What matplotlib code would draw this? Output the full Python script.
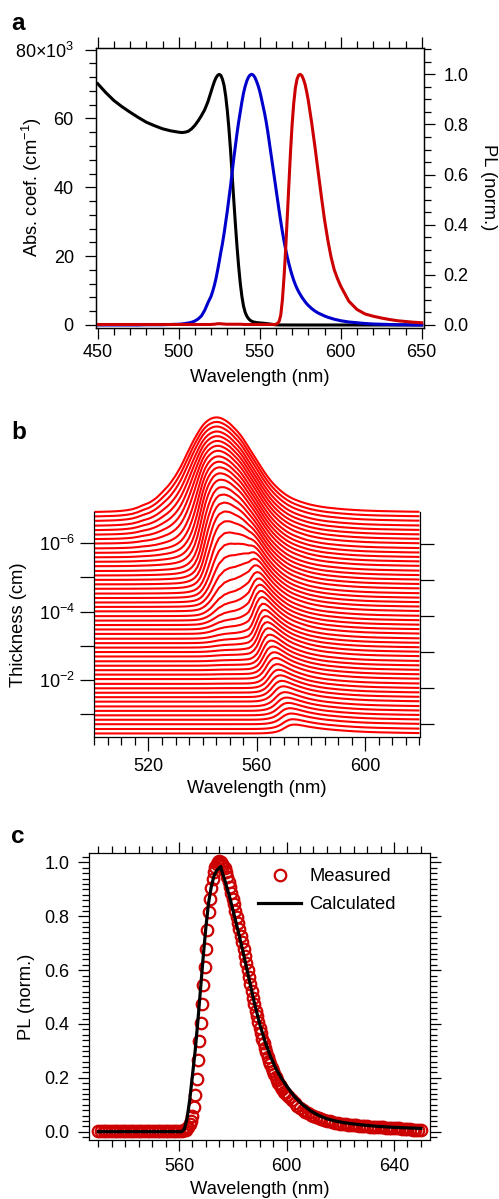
import numpy as np
import matplotlib
matplotlib.use('Agg')
import matplotlib.pyplot as plt
from matplotlib.ticker import MultipleLocator, FixedLocator, FuncFormatter, NullLocator, NullFormatter

plt.rcParams['font.family'] = ['Liberation Sans', 'DejaVu Sans']
plt.rcParams['mathtext.fontset'] = 'custom'
plt.rcParams['mathtext.rm'] = 'Liberation Sans'
plt.rcParams['mathtext.it'] = 'Liberation Sans:italic'
plt.rcParams['mathtext.bf'] = 'Liberation Sans:bold'
plt.rcParams['axes.linewidth'] = 0.9

# ---------------- data: panel a ----------------
wl_a = ([450, 455, 460, 465, 470, 475, 480, 485, 490, 495, 500,
         502, 504, 506, 508, 510, 512, 514, 516, 518]
        + list(range(520, 581))
        + [582, 584, 586, 588, 590, 592, 594, 596, 598, 600,
           605, 610, 615, 620, 625, 630, 635, 640, 645, 650])

abs_coef = [70100, 67500, 65200, 63400, 61800, 60300, 58900, 57900, 57000, 56400, 56000,
            55900, 56000, 56300, 57000, 58000, 59300, 60800, 62500, 64800,
            67800, 69300, 70700, 71800, 72500, 72800, 72500, 71400, 69600, 66500,
            62300, 57000, 50700, 43500, 36200, 29200, 22700, 17000, 12100, 8300,
            5500, 3700, 2600, 1900, 1400, 1100, 900, 800, 700, 650,
            600, 560, 520, 470, 420, 360, 300, 240, 160, 95,
            55, 30, 16, 9, 5, 2.9, 1.7, 1.0, 0.6, 0.36,
            0.22, 0.14, 0.09, 0.062, 0.047, 0.037, 0.031, 0.027, 0.024, 0.021,
            0.019,
            0.015, 0.012, 0.0095, 0.0075, 0.006, 0.0048, 0.0038, 0.003, 0.0024, 0.0019,
            0.001, 0.0006, 0.0003, 0.0002, 0.0001, 0, 0, 0, 0, 0]

pl_intrinsic = [0, 0, 0, 0, 0, 0, 0.001, 0.001, 0.001, 0.002, 0.003,
                0.004, 0.006, 0.008, 0.011, 0.016, 0.024, 0.036, 0.058, 0.088,
                0.115, 0.135, 0.158, 0.185, 0.218, 0.253, 0.29, 0.325, 0.365, 0.41,
                0.455, 0.505, 0.555, 0.61, 0.665, 0.715, 0.765, 0.81, 0.85, 0.89,
                0.925, 0.952, 0.973, 0.988, 0.997, 1.0, 0.997, 0.988, 0.973, 0.955,
                0.933, 0.905, 0.875, 0.845, 0.81, 0.77, 0.725, 0.68, 0.635, 0.59,
                0.545, 0.5, 0.455, 0.412, 0.372, 0.335, 0.302, 0.272, 0.245, 0.22,
                0.198, 0.178, 0.161, 0.146, 0.133, 0.122, 0.111, 0.102, 0.093, 0.085,
                0.078,
                0.066, 0.056, 0.048, 0.042, 0.036, 0.031, 0.027, 0.023, 0.02, 0.017,
                0.012, 0.009, 0.006, 0.004, 0.003, 0.002, 0.001, 0.001, 0, 0]

pl_film = [0.002, 0.002, 0.002, 0.002, 0.002, 0.002, 0.002, 0.002, 0.002, 0.002, 0.002,
           0.002, 0.002, 0.002, 0.002, 0.002, 0.002, 0.002, 0.002, 0.002,
           0.002, 0.003, 0.003, 0.004, 0.005, 0.005, 0.005, 0.004, 0.004, 0.003,
           0.003, 0.003, 0.003, 0.003, 0.003, 0.003, 0.003, 0.003, 0.003, 0.003,
           0.002, 0.002, 0.002, 0.002, 0.002, 0.002, 0.002, 0.002, 0.002, 0.002,
           0.002, 0.002, 0.002, 0.002, 0.002, 0.002, 0.002, 0.002, 0.002, 0.002,
           0.003, 0.006, 0.015, 0.04, 0.1, 0.19, 0.3, 0.43, 0.56, 0.69,
           0.8, 0.885, 0.945, 0.98, 0.996, 1.0, 0.995, 0.98, 0.96, 0.93,
           0.895,
           0.81, 0.715, 0.615, 0.515, 0.42, 0.34, 0.272, 0.22, 0.185, 0.155,
           0.095, 0.062, 0.044, 0.035, 0.028, 0.022, 0.017, 0.014, 0.011, 0.009]

# ---------------- data: panel b ----------------
log_thickness = [-6.91, -6.78, -6.65, -6.51, -6.38, -6.25, -6.12, -5.99, -5.85, -5.72,
                 -5.59, -5.46, -5.33, -5.19, -5.06, -4.93, -4.80, -4.67, -4.53, -4.40,
                 -4.27, -4.14, -4.01, -3.87, -3.74, -3.61, -3.48, -3.35, -3.21, -3.08,
                 -2.95, -2.82, -2.69, -2.55, -2.42, -2.29, -2.16, -2.03, -1.89, -1.76,
                 -1.63, -1.50, -1.37, -1.23, -1.10, -0.97, -0.84, -0.71, -0.57, -0.44]
right_tick_index = [7, 15, 23, 31, 39, 47]
path_factor = 45.0      # effective optical path / thickness used for re-absorption

# ---------------- data: panel c ----------------
meas_wl = (list(range(530, 563)) + [562.5 + 0.5 * k for k in range(76)] + list(range(601, 651)))
meas_pl = ([0.003] * 30 + [0.004, 0.004, 0.005]
           + [0.008, 0.012, 0.018, 0.027, 0.04, 0.06, 0.09, 0.135, 0.195, 0.265,
              0.335, 0.405, 0.475, 0.545, 0.61, 0.68, 0.75, 0.815, 0.865, 0.905,
              0.94, 0.965, 0.984, 0.996, 1.003, 1.004, 1.0, 0.995, 0.988, 0.978,
              0.964, 0.947, 0.929, 0.909, 0.888, 0.866, 0.844, 0.821, 0.798, 0.775,
              0.751, 0.727, 0.703, 0.678, 0.653, 0.628, 0.601, 0.575, 0.548, 0.522,
              0.497, 0.473, 0.45, 0.428, 0.406, 0.385, 0.365, 0.346, 0.328, 0.311,
              0.295, 0.279, 0.264, 0.25, 0.237, 0.225, 0.213, 0.202, 0.192, 0.182,
              0.173, 0.165, 0.157, 0.149, 0.142, 0.136]
           + [0.127, 0.117, 0.107, 0.097, 0.088, 0.081, 0.074, 0.068, 0.063, 0.058,
              0.054, 0.05, 0.047, 0.043, 0.04, 0.038, 0.036, 0.034, 0.031, 0.029,
              0.028, 0.027, 0.026, 0.025, 0.024, 0.023, 0.022, 0.021, 0.021, 0.02,
              0.019, 0.018, 0.018, 0.017, 0.016, 0.016, 0.015, 0.014, 0.014, 0.013,
              0.012, 0.012, 0.011, 0.01, 0.01, 0.009, 0.008, 0.008, 0.007, 0.006])

calc_wl = [530, 561, 562, 563, 564, 565, 566, 567, 568, 569, 570,
           571, 572, 573, 574, 575, 575.5, 576, 577, 578, 579, 580,
           582, 584, 586, 588, 590, 592, 594, 596, 598, 600,
           603, 606, 609, 612, 615, 618, 621, 624, 627, 630,
           635, 640, 645, 650]
calc_pl = [0, 0, 0.01, 0.05, 0.12, 0.21, 0.3, 0.41, 0.53, 0.65, 0.76,
           0.85, 0.91, 0.95, 0.97, 0.98, 0.985, 0.965, 0.935, 0.9, 0.865, 0.825,
           0.745, 0.66, 0.57, 0.48, 0.4, 0.335, 0.28, 0.235, 0.2, 0.17,
           0.13, 0.1, 0.077, 0.06, 0.048, 0.04, 0.034, 0.03, 0.026, 0.023,
           0.019, 0.016, 0.014, 0.012]

# ---------------- figure ----------------
W, H = 499, 1199
fig = plt.figure(figsize=(W / 100, H / 100), dpi=100)

def box(l, t, r, b):
    return [l / W, 1 - b / H, (r - l) / W, (b - t) / H]

FS = 13.2
BLACK = '#000000'
BLUE = '#0000cc'
DRED = '#cc0000'

def style_ticks(ax, which_axis='both', major=8, minor=5, pad=5, **kw):
    ax.tick_params(axis=which_axis, which='major', direction='out', length=major, width=0.9,
                   labelsize=FS - 0.2, pad=pad, **kw)
    ax.tick_params(axis=which_axis, which='minor', direction='out', length=minor, width=0.9, **kw)

# ---- panel a ----
axa = fig.add_axes(box(96, 48, 424, 327.5))
axa.plot(wl_a, abs_coef, color=BLACK, lw=2.2)
axa.set_xlim(448.95, 651.4)
axa.set_ylim(-730, 80460)
axa.xaxis.set_major_locator(MultipleLocator(50))
axa.xaxis.set_minor_locator(MultipleLocator(10))
axa.yaxis.set_major_locator(MultipleLocator(20000))
axa.yaxis.set_minor_locator(MultipleLocator(4000))
axa.yaxis.set_major_formatter(FuncFormatter(
    lambda v, p: '80×10$^{3}$' if abs(v - 80000) < 1 else f'{v / 1000:.0f}'))
style_ticks(axa, 'x', pad=4, top=True, labeltop=False)
style_ticks(axa, 'y', pad=8, right=False)

axa2 = axa.twinx()
axa2.plot(wl_a, pl_intrinsic, color=BLUE, lw=2.2)
axa2.plot(wl_a, pl_film, color=DRED, lw=2.2)
axa2.set_ylim(-0.01, 1.105)
axa2.yaxis.set_major_locator(MultipleLocator(0.2))
axa2.yaxis.set_minor_locator(MultipleLocator(0.05))
axa2.yaxis.set_major_formatter(FuncFormatter(lambda v, p: f'{v:.1f}'))
style_ticks(axa2, 'y', pad=6, left=False)

fig.text(32 / W, 1 - 187.5 / H, 'Abs. coef. (cm$^{-1}$)', rotation=90, ha='center', va='center', fontsize=FS)
fig.text(488 / W, 1 - 187 / H, 'PL (norm.)', rotation=270, ha='center', va='center', fontsize=FS)
fig.text(260 / W, 1 - 378 / H, 'Wavelength (nm)', ha='center', va='center', fontsize=FS)

# ---- panel b ----
axb = fig.add_axes(box(94.3, 512.3, 420, 737))
axb.set_yscale('log')
wl = np.array(wl_a, dtype=float)
sel = (wl >= 500) & (wl <= 620)
alpha = np.array(abs_coef, dtype=float)[sel]
pl0 = np.array(pl_intrinsic, dtype=float)[sel]
peak_decades = 2.78
for lt in log_thickness:
    d = 10.0 ** lt
    x = alpha * d * path_factor
    att = np.where(x > 1e-10, -np.expm1(-x) / np.maximum(x, 1e-12), 1.0)
    spec = pl0 * att
    axb.plot(wl[sel], d * 10.0 ** (-peak_decades * spec), color='#ff0000', lw=1.5,
             clip_on=False, solid_capstyle='butt')
axb.set_xlim(500, 620.2)
axb.set_ylim(10 ** -0.336, 10 ** -6.906)
axb.xaxis.set_major_locator(MultipleLocator(40))
axb.xaxis.set_minor_locator(MultipleLocator(5))
axb.yaxis.set_major_locator(FixedLocator([1e-6, 1e-5, 1e-4, 1e-3, 1e-2, 1e-1]))
axb.yaxis.set_minor_locator(NullLocator())

def logfmt(v, p):
    e = int(round(np.log10(v)))
    return f'$10^{{{e}}}$' if e % 2 == 0 else ''
axb.yaxis.set_major_formatter(FuncFormatter(logfmt))
axb.spines['top'].set_visible(False)
style_ticks(axb, 'x', major=10, minor=6, pad=5, top=False)
style_ticks(axb, 'y', major=10, minor=0, pad=4, right=False)

axb2 = axb.twinx()
axb2.set_ylim(49.8, 0)
axb2.yaxis.set_major_locator(FixedLocator(right_tick_index))
axb2.yaxis.set_minor_locator(NullLocator())
axb2.yaxis.set_major_formatter(NullFormatter())
for s in ('top', 'left', 'bottom'):
    axb2.spines[s].set_visible(False)
axb.spines['right'].set_visible(False)
style_ticks(axb2, 'y', major=10, minor=0, left=False)

fig.text(18.3 / W, 1 - 625 / H, 'Thickness (cm)', rotation=90, ha='center', va='center', fontsize=FS)
fig.text(257 / W, 1 - 788.3 / H, 'Wavelength (nm)', ha='center', va='center', fontsize=FS)

# ---- panel c ----
axc = fig.add_axes(box(89.3, 853, 430, 1140))
hm, = axc.plot(meas_wl, meas_pl, ls='none', marker='o', ms=8.3, mfc='none', mec=DRED, mew=1.6,
               label='Measured', clip_on=False)
hc, = axc.plot(calc_wl, calc_pl, color=BLACK, lw=2.3, label='Calculated')
axc.set_xlim(526.6, 653.4)
axc.set_ylim(-0.031, 1.035)
axc.xaxis.set_major_locator(MultipleLocator(40))
axc.xaxis.set_minor_locator(MultipleLocator(5))
axc.yaxis.set_major_locator(MultipleLocator(0.2))
axc.yaxis.set_minor_locator(MultipleLocator(0.02))
axc.yaxis.set_major_formatter(FuncFormatter(lambda v, p: f'{v:.1f}'))
style_ticks(axc, 'x', pad=5, top=True, labeltop=False)
style_ticks(axc, 'y', pad=6.5, right=True, labelright=False)
leg = axc.legend(handles=[hm, hc], loc='upper left', bbox_to_anchor=(258 / W, 1 - 868 / H),
                 bbox_transform=fig.transFigure, frameon=False, fontsize=FS,
                 handlelength=2.35, handletextpad=0.45, labelspacing=0.6,
                 borderpad=0, borderaxespad=0, numpoints=1)

fig.text(26.7 / W, 1 - 997 / H, 'PL (norm.)', rotation=90, ha='center', va='center', fontsize=FS)
fig.text(259.7 / W, 1 - 1190 / H, 'Wavelength (nm)', ha='center', va='center', fontsize=FS)

# panel letters
for letter, yb in (('a', 30), ('b', 439.3), ('c', 843.3)):
    fig.text(11 / W, 1 - yb / H, letter, fontsize=17.5, fontweight='bold', ha='left', va='baseline')

fig.savefig('out.png', dpi=100)
